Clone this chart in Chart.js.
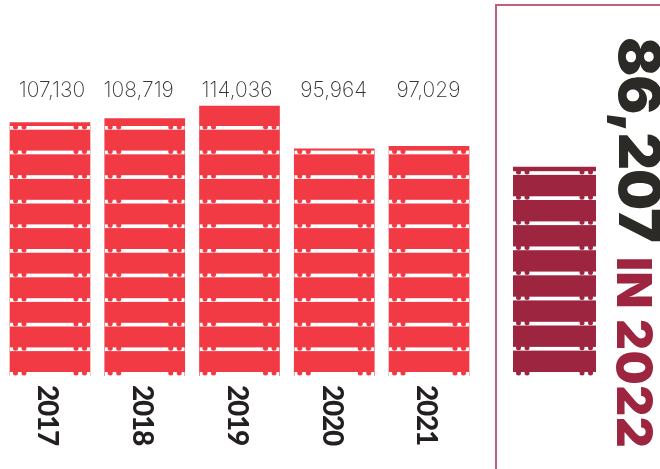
<!DOCTYPE html>
<html>
<head>
<meta charset="utf-8">
<script src="https://cdn.jsdelivr.net/npm/chart.js@4"></script>
<style>
  html, body { margin: 0; padding: 0; background: #fff; overflow: hidden; }
  #page { position: relative; width: 660px; height: 469px; }
  #leftBox { position: absolute; left: 0; top: 0; width: 490px; height: 469px; }
  #rightBox { position: absolute; left: 490px; top: 0; width: 170px; height: 469px; }
  #frame { position: absolute; left: 495px; top: 4px; width: 165px; height: 465px;
           border-top: 2px solid #c2607a; border-left: 2px solid #c2607a; box-sizing: border-box; }
</style>
</head>
<body>
<div id="page">
  <div id="frame"></div>
  <div id="leftBox"><canvas id="pastChart"></canvas></div>
  <div id="rightBox"><canvas id="nowChart"></canvas></div>
</div>
<script>
const years = ['2017', '2018', '2019', '2020', '2021'];
const tonnes = [107130, 108719, 114036, 95964, 97029];
const currentYear = ['2022'];
const currentTonnes = [86207];
const axisMax = [150000];
const valueNudge = [2, -6, -2.5, -0.5, -0.5];

const RED = '#f13a44';
const MAROON = '#9e2540';

// cuts the solid bars into stacked pallets: white gaps with pegs left in the bar colour
const palletPlugin = {
    id: 'pallets',
    afterDatasetsDraw(chart, args, opts) {
        const ctx = chart.ctx;
        const base = chart.scales.y.getPixelForValue(0);
        chart.getDatasetMeta(0).data.forEach(bar => {
            const left = bar.x - bar.width / 2;
            ctx.save();
            ctx.beginPath();
            ctx.rect(left, bar.y, bar.width, base - bar.y);
            ctx.clip();
            for (let slabBottom = base - 4; slabBottom > bar.y - opts.pitch; slabBottom -= opts.pitch) {
                const gapH = slabBottom === base - 4 ? 4.5 : opts.pitch - opts.slab;
                ctx.fillStyle = '#fff';
                ctx.fillRect(left, slabBottom, bar.width, gapH);
                ctx.fillStyle = opts.color;
                [5.5, 14, bar.width - 14, bar.width - 5.5].forEach(off => {
                    ctx.beginPath();
                    ctx.arc(left + off, slabBottom + 0.9, 2.5, 0, Math.PI * 2);
                    ctx.fill();
                });
            }
            ctx.restore();
        });
    }
};

function rotatedText(ctx, str, x, y, font, color, spacing) {
    ctx.save();
    ctx.translate(x, y);
    ctx.rotate(Math.PI / 2);
    ctx.font = font;
    ctx.fillStyle = color;
    ctx.textAlign = 'left';
    ctx.textBaseline = 'middle';
    if (spacing) ctx.letterSpacing = spacing + 'px';
    ctx.fillText(str, 0, 0);
    ctx.restore();
}

const pastLabels = {
    id: 'pastLabels',
    afterDraw(chart) {
        const ctx = chart.ctx, x = chart.scales.x;
        years.forEach((yr, i) => {
            const cx = x.getPixelForTick(i);
            ctx.save();
            ctx.font = '200 21px Inter';
            ctx.fillStyle = '#333';
            ctx.textAlign = 'center';
            ctx.textBaseline = 'middle';
            ctx.fillText(tonnes[i].toLocaleString('en-US'), cx + valueNudge[i], 91);
            ctx.restore();
            rotatedText(ctx, yr, cx - 2.5, 385, '900 28px Lato', '#231f20', -1.2);
        });
    }
};

const nowLabels = {
    id: 'nowLabels',
    afterDraw(chart) {
        const ctx = chart.ctx;
        rotatedText(ctx, currentTonnes[0].toLocaleString('en-US'), 146, 37, '900 58px Inter', '#2b2a26', -1);
        rotatedText(ctx, 'IN ' + currentYear[0], 141, 257, '900 48px Inter', MAROON, 0.5);
    }
};

function baseOptions(padding, palletOpts) {
    return {
        responsive: true,
        maintainAspectRatio: false,
        animation: false,
        layout: { padding },
        plugins: { legend: { display: false }, tooltip: { enabled: false }, pallets: palletOpts },
        scales: {
            x: { display: false },
            y: { display: false, min: 0, max: axisMax[0] }
        }
    };
}

new Chart(document.getElementById('pastChart'), {
    type: 'bar',
    data: {
        labels: years,
        datasets: [{ data: tonnes, backgroundColor: RED, barThickness: 80 }]
    },
    options: baseOptions({ left: 2.6, right: 13.6, top: 21, bottom: 93 },
        { color: RED, pitch: 24.6, slab: 20.9 }),
    plugins: [palletPlugin, pastLabels]
});

new Chart(document.getElementById('nowChart'), {
    type: 'bar',
    data: {
        labels: currentYear,
        datasets: [{ data: currentTonnes, backgroundColor: MAROON, barThickness: 83 }]
    },
    options: baseOptions({ left: 23, right: 64, top: 12.4, bottom: 93 },
        { color: MAROON, pitch: 25.1, slab: 21.4 }),
    plugins: [palletPlugin, nowLabels]
});
</script>
</body>
</html>
